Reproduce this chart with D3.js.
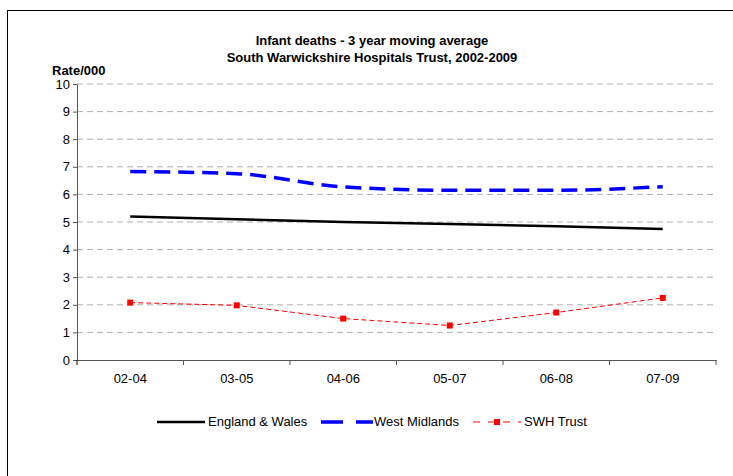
<!DOCTYPE html>
<html><head><meta charset="utf-8">
<script src="https://cdn.jsdelivr.net/npm/d3@7"></script>
<style>body{margin:0;background:#fff}text{font-family:"Liberation Sans",Arial,sans-serif}</style>
</head><body><div id="chart"></div>
<script>
var categories = ["02-04","03-05","04-06","05-07","06-08","07-09"];
var englandWales = [5.2, 5.1, 5.0, 4.93, 4.85, 4.75];
var westMidlands = [6.83, 6.75, 6.27, 6.15, 6.15, 6.28];
var swhTrust = [2.08, 1.98, 1.5, 1.25, 1.72, 2.25];
var yTicks = [0,1,2,3,4,5,6,7,8,9,10];

var svg = d3.select("#chart").append("svg").attr("width", 733).attr("height", 476);
svg.append("rect").attr("x", 7.5).attr("y", 10.5).attr("width", 740).attr("height", 480)
  .attr("fill", "none").attr("stroke", "#000").attr("stroke-width", 1);

var x = d3.scaleBand().domain(categories).range([77, 716]);
var y = d3.scaleLinear().domain([0, 10]).range([360, 84]);

// grid
svg.append("g").selectAll("line").data(yTicks.slice(1)).enter().append("line")
  .attr("x1", 77).attr("x2", 716).attr("y1", d => y(d)).attr("y2", d => y(d))
  .attr("stroke", "#b0b0b0").attr("stroke-dasharray", "6,4");

var yAxis = svg.append("g").attr("transform", "translate(77,0)")
  .call(d3.axisLeft(y).tickValues(yTicks).tickSize(4).tickSizeOuter(0));
var xAxis = svg.append("g").attr("transform", "translate(0,360)")
  .call(d3.axisBottom(x).tickSize(0).tickPadding(14));
xAxis.selectAll(".tick").append("line").attr("x1", x.bandwidth()/2).attr("x2", x.bandwidth()/2)
  .attr("y1", 0).attr("y2", 5).attr("stroke", "#000");
svg.append("line").attr("x1", 77).attr("x2", 77).attr("y1", 360).attr("y2", 365).attr("stroke", "#000");
[yAxis, xAxis].forEach(function(a) {
  a.selectAll("text").style("font-size", "13px").attr("fill", "#000");
  a.selectAll("path,line").attr("stroke", "#555");
});

var line = d3.line().x((d, i) => x(categories[i]) + x.bandwidth()/2).y(d => y(d));
svg.append("path").datum(englandWales).attr("d", line).attr("fill", "none")
  .attr("stroke", "#000").attr("stroke-width", 2.5);
svg.append("path").datum(westMidlands).attr("d", line.curve(d3.curveMonotoneX)).attr("fill", "none")
  .attr("stroke", "#0000ff").attr("stroke-width", 3.5).attr("stroke-dasharray", "16,8");
line.curve(d3.curveLinear);
svg.append("path").datum(swhTrust).attr("d", line).attr("fill", "none")
  .attr("stroke", "#ff0000").attr("stroke-width", 1).attr("stroke-dasharray", "5,3");
svg.append("g").selectAll("rect").data(swhTrust).enter().append("rect")
  .attr("x", (d, i) => x(categories[i]) + x.bandwidth()/2 - 3).attr("y", d => y(d) - 3)
  .attr("width", 6).attr("height", 6).attr("fill", "#ff0000");

// titles
svg.append("text").attr("x", 372).attr("y", 45).attr("text-anchor", "middle")
  .style("font-size", "13px").style("font-weight", "bold").text("Infant deaths - 3 year moving average");
svg.append("text").attr("x", 372).attr("y", 62).attr("text-anchor", "middle")
  .style("font-size", "13px").style("font-weight", "bold").text("South Warwickshire Hospitals Trust, 2002-2009");
svg.append("text").attr("x", 52).attr("y", 75)
  .style("font-size", "13px").style("font-weight", "bold").text("Rate/000");

// legend
var ly = 422;
svg.append("line").attr("x1", 157).attr("x2", 205).attr("y1", ly).attr("y2", ly).attr("stroke", "#000").attr("stroke-width", 2.5);
svg.append("text").attr("x", 208).attr("y", ly + 4).style("font-size", "13px").text("England & Wales");
svg.append("line").attr("x1", 321).attr("x2", 373).attr("y1", ly).attr("y2", ly).attr("stroke", "#0000ff").attr("stroke-width", 3.5).attr("stroke-dasharray", "22,13");
svg.append("text").attr("x", 374).attr("y", ly + 4).style("font-size", "13px").text("West Midlands");
svg.append("line").attr("x1", 473).attr("x2", 521).attr("y1", ly).attr("y2", ly).attr("stroke", "#ff0000").attr("stroke-width", 1).attr("stroke-dasharray", "7,8");
svg.append("rect").attr("x", 494).attr("y", ly - 3).attr("width", 6).attr("height", 6).attr("fill", "#ff0000");
svg.append("text").attr("x", 524).attr("y", ly + 4).style("font-size", "13px").text("SWH Trust");
</script></body></html>
